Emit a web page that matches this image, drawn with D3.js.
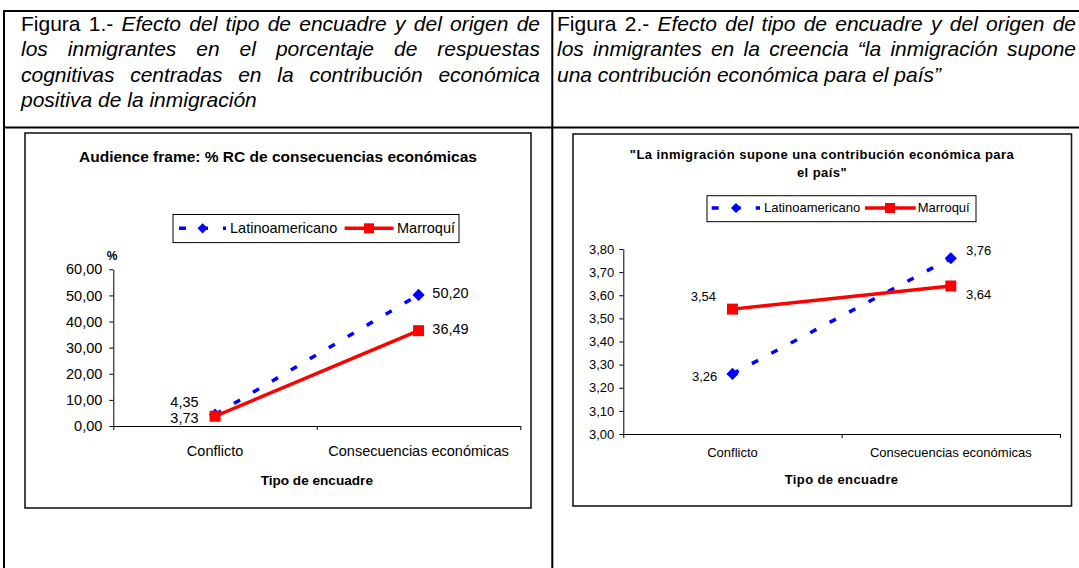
<!DOCTYPE html>
<html><head><meta charset="utf-8">
<script src="https://cdn.jsdelivr.net/npm/d3@7"></script>
<style>
html,body{margin:0;padding:0;background:#fff;}
svg{display:block;font-family:"Liberation Sans",Arial,sans-serif;}
</style></head><body>
<svg id="c" width="1079" height="568"></svg>
<script>
// ---------------- data ----------------
const categories = ["Conflicto", "Consecuencias económicas"];
const seriesNames = ["Latinoamericano", "Marroquí"];
const latino1 = [4.35, 50.20];
const marroqui1 = [3.73, 36.49];
const latino2 = [3.26, 3.76];
const marroqui2 = [3.54, 3.64];
const yTicks1 = [0, 10, 20, 30, 40, 50, 60];
const yTicks2 = [3.0, 3.1, 3.2, 3.3, 3.4, 3.5, 3.6, 3.7, 3.8];
const chartTitle1 = ["Audience frame: % RC de consecuencias económicas"];
const chartTitle2 = ["\"La inmigración supone una contribución económica para", "el país\""];
const xTitle = "Tipo de encuadre";
const yTitle1 = "%";
const captionLead1 = "Figura 1.- ";
const captionLines1 = ["Efecto del tipo de encuadre y del origen de",
  "los inmigrantes en el porcentaje de respuestas",
  "cognitivas centradas en la contribución económica",
  "positiva de la inmigración"];
const captionLead2 = "Figura 2.- ";
const captionLines2 = ["Efecto del tipo de encuadre y del origen de",
  "los inmigrantes en la creencia “la inmigración supone",
  "una contribución económica para el país”"];

// ---------------- setup ----------------
const svg = d3.select("#c");
const locale = d3.formatLocale({decimal: ",", thousands: ".", grouping: [3], currency: ["", " €"]});
const fmt = locale.format(".2f");
const BLUE = "#0000FF", RED = "#FF0000";

// table grid
const grid = svg.append("g").attr("stroke", "#000").attr("stroke-width", 2);
grid.append("line").attr("x1", 3).attr("x2", 1079).attr("y1", 11).attr("y2", 11);
grid.append("line").attr("x1", 4).attr("x2", 4).attr("y1", 10).attr("y2", 568);
grid.append("line").attr("x1", 4).attr("x2", 1079).attr("y1", 127.5).attr("y2", 127.5);
grid.append("line").attr("x1", 552.3).attr("x2", 552.3).attr("y1", 10).attr("y2", 568);

// captions
function caption(x, baselines, width, lead, lines, justifyCount) {
  lines.forEach((ln, i) => {
    const t = svg.append("text").attr("x", x).attr("y", baselines[i])
      .style("font-size", "21px").attr("fill", "#000");
    let full = ln;
    if (i === 0) { t.append("tspan").text(lead); full = lead + ln; }
    t.append("tspan").style("font-style", "italic").text(ln);
    if (i < justifyCount) {
      const nat = t.node().getComputedTextLength();
      const nSp = (full.trim().match(/ /g) || []).length;
      if (nSp > 0 && nat < width) t.style("word-spacing", ((width - nat) / nSp) + "px");
    }
  });
}
const capBase = [30.5, 56, 81.5, 107];
caption(21, capBase, 519, captionLead1, captionLines1, 3);
caption(557, capBase, 519, captionLead2, captionLines2, 2);

// ---------------- chart ----------------
function drawChart(cfg) {
  const g = svg.append("g");
  g.append("rect").attr("x", cfg.box[0]).attr("y", cfg.box[1])
    .attr("width", cfg.box[2] - cfg.box[0]).attr("height", cfg.box[3] - cfg.box[1])
    .attr("fill", "#fff").attr("stroke", "#1a1a1a").attr("stroke-width", 1.6);

  cfg.title.forEach((t, i) => g.append("text")
    .attr("x", cfg.titleX).attr("y", cfg.titleY + i * cfg.titleLH)
    .attr("text-anchor", "middle").style("font-weight", "bold")
    .style("font-size", cfg.titleFS + "px").style("letter-spacing", cfg.titleLS + "px")
    .text(t));

  const x = d3.scaleBand().domain(categories).range(cfg.xRange);
  const y = d3.scaleLinear().domain(cfg.yDomain).range(cfg.yRange);
  const cx = c => x(c) + x.bandwidth() / 2;

  // y axis
  const ya = g.append("g").attr("transform", `translate(${cfg.xRange[0]},0)`)
    .call(d3.axisLeft(y).tickValues(cfg.yTicks).tickFormat(fmt).tickSize(4).tickPadding(cfg.yPad).tickSizeOuter(0));
  ya.selectAll("text").style("font-size", cfg.fs + "px").attr("fill", "#000")
    .style("font-family", "'Liberation Sans',Arial,sans-serif");
  ya.selectAll("line,path").attr("stroke", "#000");

  // x axis line with boundary ticks
  const xb = d3.scaleLinear().domain([0, categories.length]).range(cfg.xRange);
  const xl = g.append("g").attr("transform", `translate(0,${cfg.yRange[0]})`)
    .call(d3.axisBottom(xb).tickValues(d3.range(categories.length + 1)).tickFormat("").tickSize(4).tickSizeOuter(0));
  xl.selectAll("line,path").attr("stroke", "#000");
  // category labels
  const xa = g.append("g").attr("transform", `translate(0,${cfg.yRange[0]})`)
    .call(d3.axisBottom(x).tickSize(0).tickPadding(cfg.xPad));
  xa.select(".domain").remove();
  xa.selectAll("text").style("font-size", cfg.fs + "px").attr("fill", "#000")
    .style("font-family", "'Liberation Sans',Arial,sans-serif");

  // axis titles
  g.append("text").attr("x", cfg.xTitlePos[0]).attr("y", cfg.xTitlePos[1])
    .attr("text-anchor", "middle").style("font-weight", "bold")
    .style("font-size", cfg.xTitleFS + "px").style("letter-spacing", cfg.xTitleLS + "px").text(xTitle);
  if (cfg.yTitle) g.append("text").attr("x", cfg.yTitlePos[0]).attr("y", cfg.yTitlePos[1])
    .attr("text-anchor", "middle").style("font-weight", "bold").style("font-size", "12px").text(cfg.yTitle);

  // series
  const line = d3.line().x((d, i) => cx(categories[i])).y(d => y(d));
  const series = [
    {name: seriesNames[0], vals: cfg.latino, color: BLUE, dash: "7,15", sym: "diamond", lab: cfg.labLatino},
    {name: seriesNames[1], vals: cfg.marroqui, color: RED, dash: null, sym: "square", lab: cfg.labMarroqui}
  ];
  const diamond = d3.symbol().type(d3.symbolSquare).size(74);
  const square = d3.symbol().type(d3.symbolSquare).size(121);
  series.forEach(s => {
    g.append("path").datum(s.vals).attr("d", line).attr("fill", "none")
      .attr("stroke", s.color).attr("stroke-width", 3.5)
      .attr("stroke-dasharray", s.dash);
    s.vals.forEach((v, i) => {
      g.append("path").attr("d", s.sym === "diamond" ? diamond() : square())
        .attr("transform", `translate(${cx(categories[i])},${y(v)})` + (s.sym === "diamond" ? " rotate(45)" : ""))
        .attr("fill", s.color);
      const L = s.lab[i];
      g.append("text").attr("x", cx(categories[i]) + L[0]).attr("y", y(v) + L[1])
        .attr("text-anchor", L[0] < 0 ? "end" : "start")
        .style("font-size", cfg.fs + "px").text(fmt(v));
    });
  });

  // legend
  const lb = cfg.legend.box;
  g.append("rect").attr("x", lb[0]).attr("y", lb[1]).attr("width", lb[2] - lb[0]).attr("height", lb[3] - lb[1])
    .attr("fill", "#fff").attr("stroke", "#000").attr("stroke-width", 1);
  const ly = cfg.legend.symY;
  cfg.legend.items.forEach((it, k) => {
    const s = series[k];
    g.append("line").attr("x1", it.line[0]).attr("x2", it.line[1]).attr("y1", ly).attr("y2", ly)
      .attr("stroke", s.color).attr("stroke-width", 3.5).attr("stroke-dasharray", s.dash);
    g.append("path").attr("d", s.sym === "diamond" ? d3.symbol().type(d3.symbolSquare).size(52)() : d3.symbol().type(d3.symbolSquare).size(100)())
      .attr("transform", `translate(${it.mark},${ly})` + (s.sym === "diamond" ? " rotate(45)" : ""))
      .attr("fill", s.color);
    g.append("text").attr("x", it.text).attr("y", cfg.legend.textY)
      .style("font-size", cfg.fs + "px").text(s.name);
  });
}

drawChart({
  box: [25, 133, 531, 508],
  title: chartTitle1, titleX: 278, titleY: 161.5, titleLH: 18, titleFS: 15.5, titleLS: 0,
  xRange: [113.3, 520.3], yDomain: [0, 60], yRange: [426, 269.3], yTicks: yTicks1,
  fs: 14.5, yPad: 7, xPad: 19.5,
  xTitlePos: [316.8, 484.5], xTitleFS: 13.6, xTitleLS: 0,
  yTitle: yTitle1, yTitlePos: [112, 260],
  latino: latino1, marroqui: marroqui1,
  labLatino: [[-16.5, -7.7], [13.8, 3.3]],
  labMarroqui: [[-16.5, 6.9], [13.8, 3.5]],
  legend: {box: [173, 214.5, 459, 242.6], symY: 228.3, textY: 232.8,
    items: [{line: [179, 226], mark: 202.6, text: 230}, {line: [344.6, 393.6], mark: 369, text: 397}]}
});

drawChart({
  box: [573, 134, 1071.5, 506],
  title: chartTitle2, titleX: 822, titleY: 158.5, titleLH: 18.5, titleFS: 13, titleLS: 0.45,
  xRange: [623.3, 1060], yDomain: [3.0, 3.8], yRange: [434, 249], yTicks: yTicks2,
  fs: 13, yPad: 5, xPad: 13.7,
  xTitlePos: [841.6, 484.3], xTitleFS: 13, xTitleLS: 0.4,
  yTitle: null,
  latino: latino2, marroqui: marroqui2,
  labLatino: [[-15.2, 7.5], [15.2, -3.6]],
  labMarroqui: [[-16.5, -7.7], [15.2, 13]],
  legend: {box: [707, 195.7, 976, 221.7], symY: 208, textY: 212.4,
    items: [{line: [711.7, 760], mark: 736, text: 764}, {line: [865, 915.7], mark: 890, text: 917.7}]}
});
</script>
</body></html>
